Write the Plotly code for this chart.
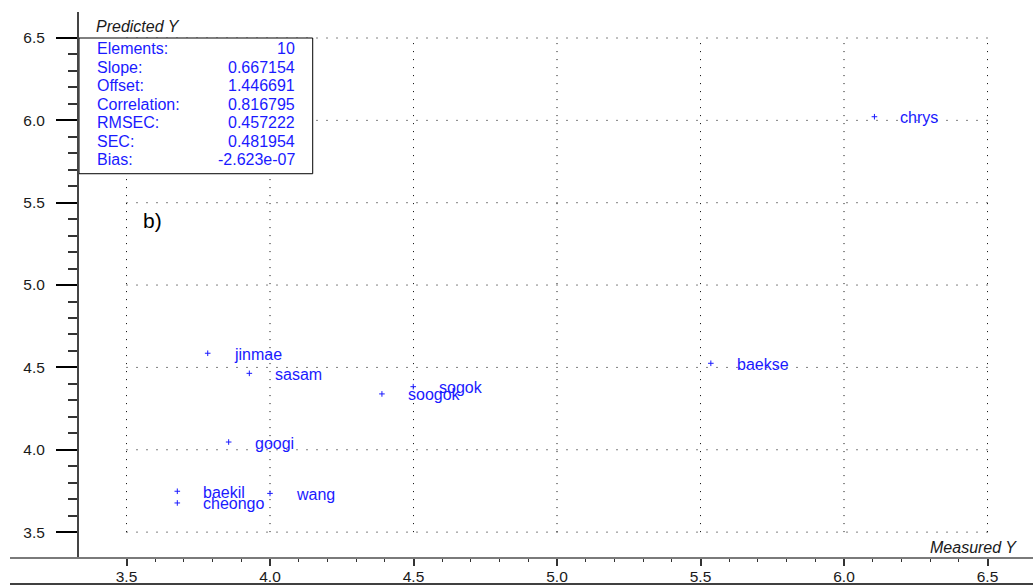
import plotly.graph_objects as go

# Samples: measured vs. predicted Y
names = ["jinmae", "sasam", "soogok", "sogok", "googi",
         "baekil", "cheongo", "wang", "baekse", "chrys"]
measured = [3.783, 3.928, 4.390, 4.499, 3.856, 3.677, 3.677, 4.000, 5.536, 6.106]
predicted = [4.586, 4.464, 4.339, 4.383, 4.047, 3.748, 3.677, 3.735, 4.525, 6.022]

# Calibration statistics
stat_names = ["Elements:", "Slope:", "Offset:", "Correlation:", "RMSEC:", "SEC:", "Bias:"]
stat_values = ["10", "0.667154", "1.446691", "0.816795", "0.457222", "0.481954", "-2.623e-07"]

# Major tick / grid values (both axes)
major_ticks = [3.5, 4.0, 4.5, 5.0, 5.5, 6.0, 6.5]

FONT = "Liberation Sans, Arial, sans-serif"
BLUE = "#1a1aff"
W, H = 1033, 585
ML, MR, MT, MB = 79, 0, 12, 27
XR = [3.3345, 6.6585]
YR = [3.3428, 6.6579]
PW, PH = W - ML - MR, H - MT - MB


def px_x(p):
    return (p - ML) / PW


def px_y(p):
    return (H - MB - p) / PH


minor_vals = [round(3.5 + 0.1 * i, 1) for i in range(31)]
minor_vals = [v for v in minor_vals if v not in major_ticks]

fig = go.Figure()
fig.add_trace(go.Scatter(
    x=measured, y=predicted, mode="markers",
    marker=dict(symbol="cross-thin", size=4, color=BLUE,
                line=dict(color=BLUE, width=1)),
    hovertext=names, showlegend=False,
))

shapes = []
lo, hi = major_ticks[0], major_ticks[-1]
for v in major_ticks:
    shapes.append(dict(type="line", xref="x", yref="y", x0=v, x1=v, y0=lo, y1=hi,
                       line=dict(color="black", width=1, dash="1px,7px"), layer="below"))
    shapes.append(dict(type="line", xref="x", yref="y", x0=lo, x1=hi, y0=v, y1=v,
                       line=dict(color="black", width=1, dash="1px,9px"), layer="below"))

# statistics box
shapes.append(dict(type="rect", xref="x", yref="y", x0=XR[0], x1=4.1488, y0=5.676, y1=6.5,
                   fillcolor="white", line=dict(color="black", width=1), layer="below"))
# horizontal axis line, extended to the left
shapes.append(dict(type="line", xref="paper", yref="paper", x0=px_x(10), x1=1, y0=0, y1=0,
                   line=dict(color="#7a7a7a", width=2)))
# frame line at the bottom
shapes.append(dict(type="line", xref="paper", yref="paper", x0=px_x(10), x1=1,
                   y0=px_y(584), y1=px_y(584), line=dict(color="black", width=1.5)))

annotations = []
for n, xv, yv in zip(names, measured, predicted):
    annotations.append(dict(x=xv, y=yv, xref="x", yref="y", text=n, showarrow=False,
                            xanchor="left", yanchor="middle", xshift=24, yshift=-1,
                            font=dict(family=FONT, size=16, color=BLUE)))

row0, row_step = 49, 18.4
for i, (sn, sv) in enumerate(zip(stat_names, stat_values)):
    yy = px_y(row0 + i * row_step)
    annotations.append(dict(x=px_x(95), y=yy, xref="paper", yref="paper", text=sn,
                            showarrow=False, xanchor="left", yanchor="middle",
                            font=dict(family=FONT, size=16, color=BLUE)))
    annotations.append(dict(x=px_x(297), y=yy, xref="paper", yref="paper", text=sv,
                            showarrow=False, xanchor="right", yanchor="middle",
                            font=dict(family=FONT, size=16, color=BLUE)))

annotations.append(dict(x=px_x(94), y=px_y(26), xref="paper", yref="paper",
                        text="<i>Predicted Y</i>", showarrow=False,
                        xanchor="left", yanchor="middle",
                        font=dict(family=FONT, size=16, color="#1a1a1a")))
annotations.append(dict(x=px_x(1019), y=px_y(547.5), xref="paper", yref="paper",
                        text="<i>Measured Y</i>", showarrow=False,
                        xanchor="right", yanchor="middle",
                        font=dict(family=FONT, size=16, color="#1a1a1a")))
annotations.append(dict(x=px_x(141), y=px_y(220), xref="paper", yref="paper",
                        text="b)", showarrow=False, xanchor="left", yanchor="middle",
                        font=dict(family=FONT, size=21, color="black")))

fig.update_layout(
    width=W, height=H,
    margin=dict(l=ML, r=MR, t=MT, b=MB),
    paper_bgcolor="white", plot_bgcolor="white",
    font=dict(family=FONT, size=15.5, color="#1a1a1a"),
    shapes=shapes, annotations=annotations,
    xaxis=dict(range=XR, tickvals=major_ticks, tickformat=".1f",
               ticks="outside", ticklen=7, tickwidth=2, tickcolor="#333",
               ticklabelstandoff=-3,
               showgrid=False, zeroline=False, showline=False,
               minor=dict(tickvals=minor_vals, ticks="outside", ticklen=3,
                          tickwidth=1, tickcolor="#333", showgrid=False)),
    yaxis=dict(range=YR, tickvals=major_ticks, tickformat=".1f",
               ticks="outside", ticklen=21, tickwidth=1.5, tickcolor="black",
               ticklabelstandoff=8,
               showgrid=False, zeroline=False, showline=True,
               linecolor="#444", linewidth=2,
               minor=dict(tickvals=minor_vals, ticks="outside", ticklen=9,
                          tickwidth=1.5, tickcolor="#333", showgrid=False)),
)

fig.write_html("out.html")
